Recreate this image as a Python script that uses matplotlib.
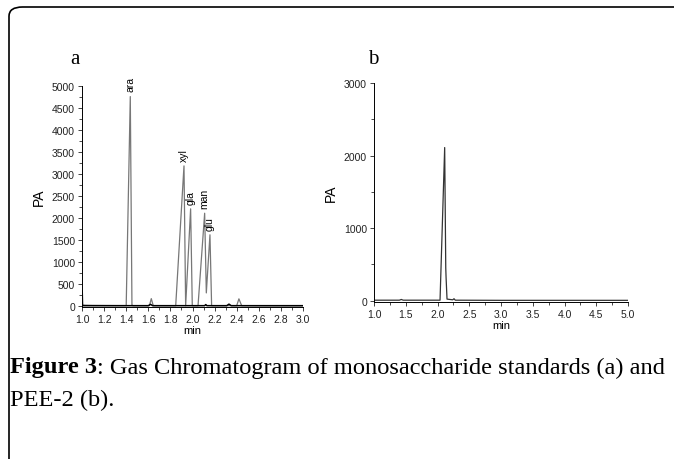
import matplotlib.pyplot as plt
from matplotlib.patches import FancyBboxPatch
from matplotlib.ticker import MultipleLocator
from matplotlib import font_manager

# panel a: monosaccharide standards (min, PA)
std_time = [1.00, 1.003, 1.008, 1.02, 1.10, 1.30, 1.40, 1.437, 1.452, 1.46, 1.61, 1.627, 1.645,
            1.70, 1.848, 1.923, 1.938, 1.983, 1.998, 2.05, 2.11, 2.125, 2.158, 2.173, 2.19,
            2.40, 2.42, 2.445, 2.60, 3.00]
std_pa = [20, 340, 40, 20, 15, 12, 12, 4760, 30, 10, 10, 170, 10,
          10, 10, 3185, 10, 2210, 10, 10, 2110, 300, 1620, 10, 10,
          10, 165, 10, 8, 8]
base_time = [1.00, 1.20, 1.60, 1.62, 1.64, 2.00, 2.11, 2.12, 2.13, 2.31, 2.33, 2.35, 2.60, 3.00]
base_pa = [10, 10, 10, 40, 10, 10, 10, 35, 10, 10, 45, 10, 10, 10]
peak_names = ['ara', 'xyl', 'gla', 'man', 'glu']
peak_time = [1.437, 1.923, 1.983, 2.11, 2.158]
peak_pa = [4760, 3185, 2210, 2110, 1620]

# panel b: PEE-2 (min, PA)
pee_time = [1.00, 1.40, 1.43, 1.46, 2.04, 2.113, 2.13, 2.135, 2.15, 2.24, 2.26, 2.28, 3.0, 5.0]
pee_pa = [5, 5, 15, 5, 5, 2110, 450, 320, 20, 10, 25, 5, 3, 3]

names = {f.name for f in font_manager.fontManager.ttflist}
narrow = 'Liberation Sans Narrow' if 'Liberation Sans Narrow' in names else 'Liberation Sans'
plt.rcParams['font.family'] = [narrow, 'DejaVu Sans']
fig = plt.figure(figsize=(6.74, 4.6), dpi=100)

# rounded border, only top and left visible
fig.add_artist(FancyBboxPatch((9 / 674, -0.2), 1.2, (452 / 460) + 0.2,
                              boxstyle='round,pad=0,rounding_size=0.02',
                              transform=fig.transFigure, fill=False, ec='black', lw=1.2))


def style(ax):
    for s in ['top', 'right']:
        ax.spines[s].set_visible(False)
    ax.tick_params(direction='out', length=3, width=0.6, labelsize=7.5, pad=2, colors='#222222')
    ax.tick_params(which='minor', direction='out', length=2, width=0.5)
    for s in ['left', 'bottom']:
        ax.spines[s].set_linewidth(0.7)


ax1 = fig.add_axes([82 / 674, 1 - 308 / 460, 221 / 674, 221 / 460])
ax1.plot(std_time, std_pa, color='#777777', lw=0.9)
ax1.plot(base_time, base_pa, color='black', lw=1.1)
for n, t, p in zip(peak_names, peak_time, peak_pa):
    ax1.text(t, p + 120, n, rotation=90, ha='center', va='bottom', fontsize=7.5)
ax1.set_xlim(1.0, 3.0)
ax1.set_ylim(-20, 5000)
ax1.set_xticks([1.0 + 0.2 * i for i in range(11)])
ax1.set_xticklabels([f'{1.0 + 0.2 * i:.1f}' for i in range(11)])
ax1.xaxis.set_minor_locator(MultipleLocator(0.1))
ax1.set_yticks(range(0, 5001, 500))
ax1.yaxis.set_minor_locator(MultipleLocator(250))
ax1.set_xlabel('min', fontsize=8, labelpad=1)
ax1.set_ylabel('PA', fontsize=10, labelpad=4, family='Liberation Sans')
style(ax1)

ax2 = fig.add_axes([374 / 674, 1 - 303 / 460, 254 / 674, 219 / 460])
ax2.plot(pee_time, pee_pa, color='#333333', lw=0.9)
ax2.set_xlim(1.0, 5.0)
ax2.set_ylim(-20, 3000)
ax2.set_xticks([1.0 + 0.5 * i for i in range(9)])
ax2.set_xticklabels([f'{1.0 + 0.5 * i:.1f}' for i in range(9)])
ax2.xaxis.set_minor_locator(MultipleLocator(0.25))
ax2.set_yticks([0, 1000, 2000, 3000])
ax2.yaxis.set_minor_locator(MultipleLocator(500))
ax2.set_xlabel('min', fontsize=8, labelpad=1)
ax2.set_ylabel('PA', fontsize=10, labelpad=4, family='Liberation Sans')
style(ax2)

fig.text(75 / 674, 1 - 60 / 460, 'a', family='Liberation Serif', fontsize=15, ha='center', va='center')
fig.text(373 / 674, 1 - 60 / 460, 'b', family='Liberation Serif', fontsize=15, ha='center', va='center')

cap = fig.text(10 / 674, 1 - 368 / 460, 'Figure 3', family='Liberation Serif', fontsize=17.6,
               fontweight='bold', va='center')
fig.canvas.draw()
bb = cap.get_window_extent()
fig.text(bb.x1 / 674, 1 - 368 / 460,
         ': Gas Chromatogram of monosaccharide standards (a) and',
         family='Liberation Serif', fontsize=17.6, va='center')
fig.text(10 / 674, 1 - 400 / 460, 'PEE-2 (b).', family='Liberation Serif', fontsize=17.6, va='center')

fig.savefig('out.png', dpi=100)
